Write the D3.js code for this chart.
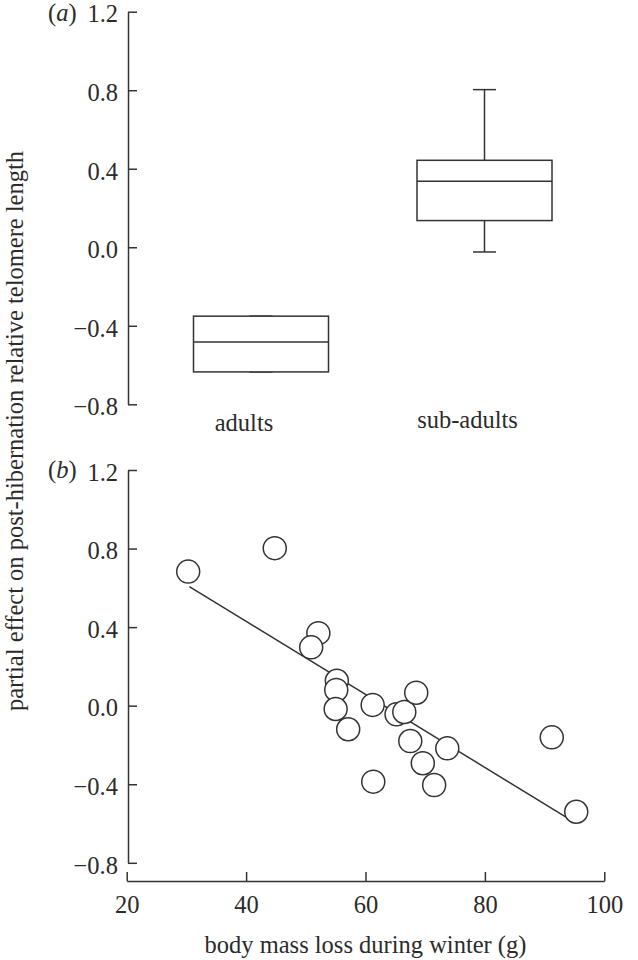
<!DOCTYPE html>
<html>
<head>
<meta charset="utf-8">
<script src="https://cdn.jsdelivr.net/npm/d3@7"></script>
<style>
  html, body { margin: 0; padding: 0; background: #fff; }
  svg { display: block; }
  text { font-family: "Liberation Serif", "DejaVu Serif", serif; fill: #2b2b2b; }
  .axis path, .axis line { stroke: #333; stroke-width: 1.5px; }
  .axis text { font-size: 24.5px; font-family: "Liberation Serif", serif; fill: #2b2b2b; }
</style>
</head>
<body>
<svg id="chart"></svg>
<script>
// panel (a): box plot per age class
const groups = ['adults', 'sub-adults'];
const whiskerLow = [-0.635, -0.024];
const boxLow = [-0.635, 0.136];
const boxMedian = [-0.482, 0.336];
const boxHigh = [-0.351, 0.443];
const whiskerHigh = [-0.351, 0.803];

// panel (b): partial effect vs body mass loss
const massLoss = [30.3, 44.8, 52.1, 50.9, 55.2, 55.1, 55.0, 57.1, 61.2, 61.3,
                  65.2, 66.5, 68.5, 67.5, 69.6, 71.5, 73.7, 91.2, 95.3];
const telomereEffect = [0.683, 0.802, 0.369, 0.297, 0.127, 0.080, -0.017, -0.120, 0.004, -0.387,
                        -0.044, -0.032, 0.066, -0.180, -0.293, -0.404, -0.217, -0.161, -0.540];
const fitX = [30.5, 95.3];
const fitY = [0.606, -0.599];

const yTicks = [-0.8, -0.4, 0.0, 0.4, 0.8, 1.2];
const xTicks = [20, 40, 60, 80, 100];

(function() {
    'use strict';

    const width = 638, height = 960;
    const axisX = 128;
    const stroke = '#333';
    const fontSize = '24.5px';

    const svg = d3.select('#chart')
        .attr('width', width)
        .attr('height', height);

    const fmt = d3.format('.1f');

    function yAxis(g, scale) {
        g.attr('class', 'axis')
            .attr('transform', `translate(${axisX},0)`)
            .call(d3.axisLeft(scale)
                .tickValues(yTicks)
                .tickFormat(fmt)
                .tickSizeInner(-9)
                .tickSizeOuter(0)
                .tickPadding(10))
            .selectAll('text')
            .attr('dy', '0.42em');
    }

    /* ---- panel (a) ---- */
    const yA = d3.scaleLinear().domain([-0.8, 1.2]).range([404.3, 11.7]);
    const xA = d3.scalePoint().domain(groups).range([261, 484.5]);
    const boxW = 135, capW = 23, labelShift = -17;

    svg.append('g').call(yAxis, yA);

    svg.append('text')
        .attr('x', 48).attr('y', 21)
        .style('font-size', fontSize)
        .html('(<tspan font-style="italic">a</tspan>)');

    const boxes = svg.append('g').attr('class', 'boxes')
        .selectAll('g')
        .data(groups)
        .join('g');

    // whiskers
    boxes.append('line')
        .attr('x1', d => xA(d)).attr('x2', d => xA(d))
        .attr('y1', (d, i) => yA(whiskerHigh[i]))
        .attr('y2', (d, i) => yA(boxHigh[i]));
    boxes.append('line')
        .attr('x1', d => xA(d)).attr('x2', d => xA(d))
        .attr('y1', (d, i) => yA(boxLow[i]))
        .attr('y2', (d, i) => yA(whiskerLow[i]));
    boxes.append('line')
        .attr('x1', d => xA(d) - capW / 2).attr('x2', d => xA(d) + capW / 2)
        .attr('y1', (d, i) => yA(whiskerHigh[i]))
        .attr('y2', (d, i) => yA(whiskerHigh[i]));
    boxes.append('line')
        .attr('x1', d => xA(d) - capW / 2).attr('x2', d => xA(d) + capW / 2)
        .attr('y1', (d, i) => yA(whiskerLow[i]))
        .attr('y2', (d, i) => yA(whiskerLow[i]));
    // box and median
    boxes.append('rect')
        .attr('x', d => xA(d) - boxW / 2)
        .attr('width', boxW)
        .attr('y', (d, i) => yA(boxHigh[i]))
        .attr('height', (d, i) => yA(boxLow[i]) - yA(boxHigh[i]))
        .attr('fill', '#fff');
    boxes.append('line')
        .attr('x1', d => xA(d) - boxW / 2).attr('x2', d => xA(d) + boxW / 2)
        .attr('y1', (d, i) => yA(boxMedian[i]))
        .attr('y2', (d, i) => yA(boxMedian[i]));
    boxes.selectAll('line, rect')
        .attr('stroke', stroke)
        .attr('stroke-width', 1.5);

    boxes.append('text')
        .attr('x', d => xA(d) + labelShift)
        .attr('y', (d, i) => i === 0 ? 431 : 428)
        .attr('text-anchor', 'middle')
        .style('font-size', fontSize)
        .text(d => d);

    /* ---- panel (b) ---- */
    const yB = d3.scaleLinear().domain([-0.8, 1.2]).range([862.8, 470]);
    const xB = d3.scaleLinear().domain([20, 100]).range([126.7, 604.3]);

    svg.append('g').call(yAxis, yB);

    svg.append('g')
        .attr('class', 'axis')
        .attr('transform', 'translate(0,881)')
        .call(d3.axisBottom(xB)
            .tickValues(xTicks)
            .tickFormat(d3.format('d'))
            .tickSizeInner(-9)
            .tickSizeOuter(0)
            .tickPadding(15));

    svg.append('text')
        .attr('x', 48).attr('y', 478)
        .style('font-size', fontSize)
        .html('(<tspan font-style="italic">b</tspan>)');

    // regression line
    svg.append('line')
        .attr('x1', xB(fitX[0])).attr('y1', yB(fitY[0]))
        .attr('x2', xB(fitX[1])).attr('y2', yB(fitY[1]))
        .attr('stroke', stroke)
        .attr('stroke-width', 1.5);

    svg.append('g').attr('class', 'points')
        .selectAll('circle')
        .data(massLoss.map((m, i) => ({ x: m, y: telomereEffect[i] })))
        .join('circle')
        .attr('cx', d => xB(d.x))
        .attr('cy', d => yB(d.y))
        .attr('r', 11.5)
        .attr('fill', '#fff')
        .attr('stroke', stroke)
        .attr('stroke-width', 1.5);

    // axis titles
    svg.append('text')
        .attr('x', (xB(20) + xB(100)) / 2)
        .attr('y', 953)
        .attr('text-anchor', 'middle')
        .style('font-size', fontSize)
        .text('body mass loss during winter (g)');

    svg.append('text')
        .attr('transform', 'translate(23,431) rotate(-90)')
        .attr('text-anchor', 'middle')
        .style('font-size', fontSize)
        .text('partial effect on post-hibernation relative telomere length');
})();
</script>
</body>
</html>
